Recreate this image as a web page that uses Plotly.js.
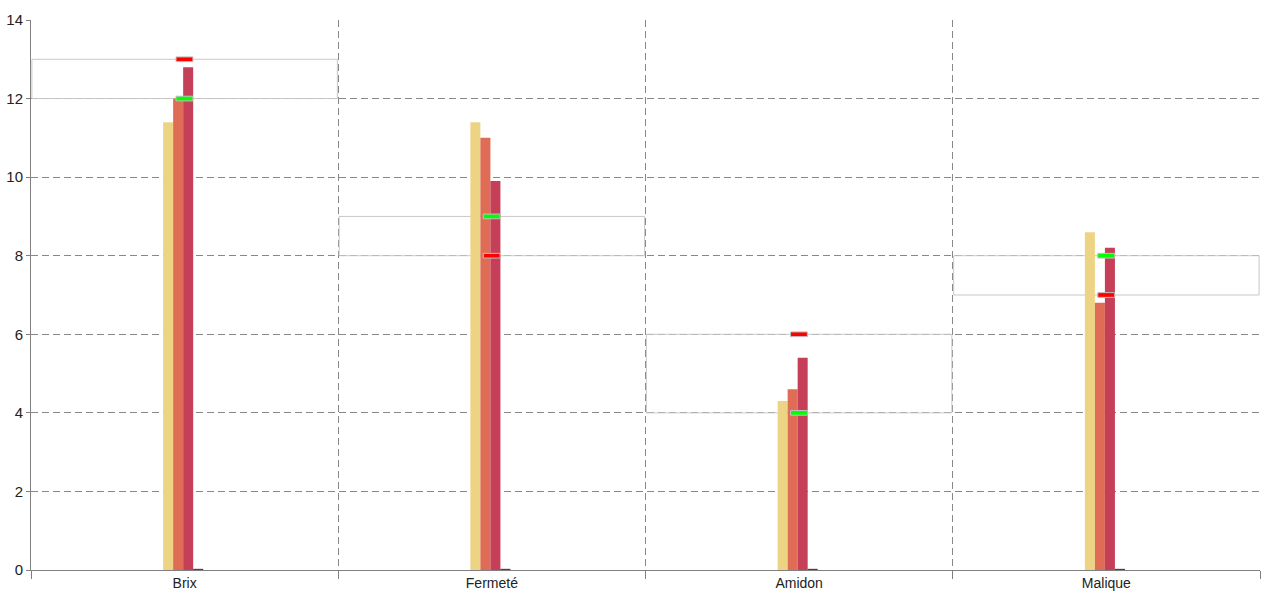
<!DOCTYPE html>
<html>
<head>
<meta charset="utf-8">
<script src="https://cdn.plot.ly/plotly-3.0.1.min.js"></script>
<style>html,body{margin:0;padding:0;background:#fff;}#chart{width:1280px;height:600px;}</style>
</head>
<body>
<div id="chart"></div>
<script>
const categories = ["Brix", "Fermeté", "Amidon", "Malique"];
const serie1 = [11.4, 11.4, 4.3, 8.6];
const serie2 = [12.0, 11.0, 4.6, 6.8];
const serie3 = [12.8, 9.9, 5.4, 8.2];
const serie4 = [0.03, 0.03, 0.03, 0.03];
const seuilVert = [12, 9, 4, 8];
const seuilRouge = [13, 8, 6, 7];

const colors = ["#EDD484", "#DF6C55", "#C63F59", "#7A2A48"];
const series = [serie1, serie2, serie3, serie4];
const barW = 0.0326;

const traces = series.map((s, i) => ({
  type: "bar",
  x: categories,
  y: s,
  width: barW,
  offset: -0.0700 + i * barW,
  marker: {color: colors[i], line: {width: 0}},
  hoverinfo: "none"
}));

const shapes = [];
categories.forEach((c, i) => {
  const lo = Math.min(seuilVert[i], seuilRouge[i]);
  const hi = Math.max(seuilVert[i], seuilRouge[i]);
  shapes.push({type: "rect", xref: "x", yref: "y", x0: i - 0.497, x1: i + 0.497, y0: lo, y1: hi,
    line: {color: "#C8C8C8", width: 1}, fillcolor: "rgba(0,0,0,0)", layer: "between"});
});
categories.forEach((c, i) => {
  [[seuilVert[i], "#00FF00"], [seuilRouge[i], "#FF0000"]].forEach(([v, col]) => {
    shapes.push({type: "rect", xref: "x", yref: "y", x0: i - 0.028, x1: i + 0.027, y0: v - 0.06, y1: v + 0.06,
      line: {color: "#C0C0C0", width: 1}, fillcolor: col, layer: "above"});
  });
});

const layout = {
  width: 1280, height: 600,
  margin: {l: 31, r: 20, t: 20, b: 30},
  paper_bgcolor: "#fff", plot_bgcolor: "#fff",
  showlegend: false,
  barmode: "group",
  font: {family: "Liberation Sans, Arial, sans-serif", size: 14, color: "#222"},
  xaxis: {
    type: "category",
    range: [-0.5, 3.5],
    tickson: "boundaries",
    ticks: "outside", ticklen: 8, tickcolor: "#808080",
    showgrid: true, gridcolor: "#888888", griddash: "7px,4px", gridwidth: 1,
    showline: true, linecolor: "#808080", linewidth: 1,
    zeroline: false,
    tickfont: {size: 14, color: "#222"}
  },
  yaxis: {
    range: [0, 14],
    tickvals: [0, 2, 4, 6, 8, 10, 12, 14],
    ticks: "outside", ticklen: 4, tickcolor: "#808080",
    showgrid: true, gridcolor: "#888888", griddash: "7px,4px", gridwidth: 1,
    showline: true, linecolor: "#808080", linewidth: 1,
    zeroline: false,
    tickfont: {size: 15, color: "#222"}
  },
  shapes: shapes
};

Plotly.newPlot("chart", traces, layout, {displayModeBar: false, staticPlot: true});
</script>
</body>
</html>
